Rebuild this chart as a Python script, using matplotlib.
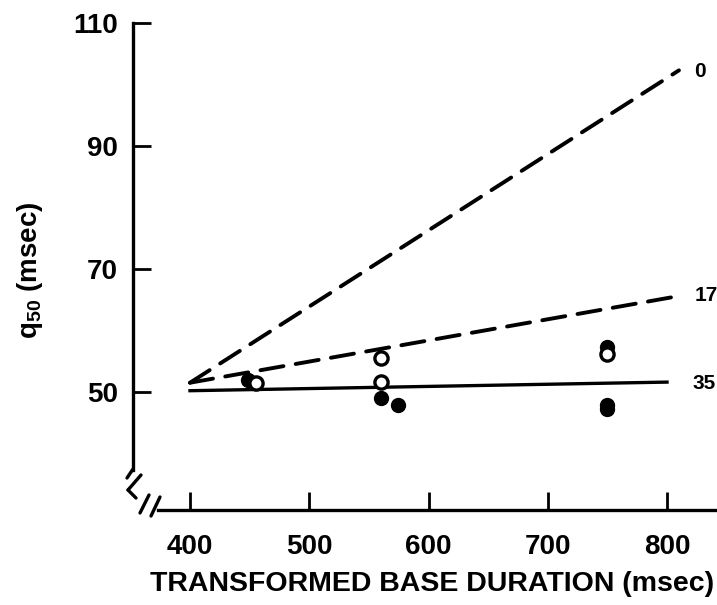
import matplotlib
matplotlib.use("Agg")
import matplotlib.pyplot as plt
from matplotlib.lines import Line2D

# Data
line_x = [400, 810]
line0_y = [51.5, 102.3]
line17_y = [51.5, 65.6]
line35_x = [400, 800]
line35_y = [50.2, 51.6]
line_labels = ["0", "17", "35"]

open_x = [455, 560, 560, 750]
open_y = [51.5, 55.6, 51.6, 56.2]
filled_x = [449, 560, 574, 750, 750, 750]
filled_y = [51.9, 49.0, 47.9, 57.3, 47.9, 47.3]

xticks = [400, 500, 600, 700, 800]
yticks = [50, 70, 90, 110]

W, H = 717, 605
plt.rcParams['font.family'] = ['Liberation Sans', 'DejaVu Sans']
plt.rcParams['mathtext.fontset'] = 'custom'
plt.rcParams['mathtext.bf'] = 'Liberation Sans:bold'
fig = plt.figure(figsize=(W / 100, H / 100), dpi=100)

# pixel mapping: x 400->190, 800->667 ; y 110->23, 50->392
xmin, xmax = 352.2, 841.9
ymin, ymax = 30.8, 112.0
ax = fig.add_axes([133 / W, (H - 510) / H, (717 - 133) / W, (510 - 10.7) / H])
ax.set_xlim(xmin, xmax)
ax.set_ylim(ymin, ymax)

for s in ["top", "right"]:
    ax.spines[s].set_visible(False)
ax.spines["left"].set_bounds(37.3, 110)
ax.spines["bottom"].set_bounds(373.0, xmax)
ax.spines["left"].set_linewidth(2.4)
ax.spines["bottom"].set_linewidth(2.4)

ax.set_xticks(xticks)
ax.set_yticks(yticks)
ax.tick_params(axis="both", direction="in", length=13, width=2.0,
               labelsize=20, pad=11)
ax.tick_params(axis="x", pad=17)
for lab in ax.get_xticklabels() + ax.get_yticklabels():
    lab.set_fontweight("bold")

# lines
ax.plot(line_x, line0_y, color="black", lw=2.8, dashes=(6, 3.2), dash_capstyle="round")
ax.plot(line_x, line17_y, color="black", lw=2.8, dashes=(6, 3.2), dash_capstyle="round")
ax.plot(line35_x, line35_y, color="black", lw=2.4)

ax.text(line_x[1] + 13, line0_y[1] - 0.2, line_labels[0], fontsize=15, fontweight="bold", va="center", ha="left")
ax.text(line_x[1] + 13, line17_y[1] + 0.1, line_labels[1], fontsize=15, fontweight="bold", va="center", ha="left")
ax.text(line35_x[1] + 21, line35_y[1] - 0.3, line_labels[2], fontsize=15, fontweight="bold", va="center", ha="left")

# points
ax.plot(filled_x, filled_y, "o", color="black", ms=10, zorder=4)
ax.plot(open_x, open_y, "o", mfc="white", mec="black", mew=2.4, ms=9.5, zorder=5)

# axis labels
fig.text(432 / W, 1 - 584 / H, "TRANSFORMED BASE DURATION (msec)", fontsize=20.5,
         fontweight="bold", ha="center", va="center")
fig.text(30 / W, 1 - 270 / H, r"q$_{\mathbf{50}}$ (msec)", fontsize=20,
         fontweight="bold", rotation=90, ha="center", va="center")

# axis break marks (decoration, in figure pixel coords)
def px(x, y):
    return (x / W, 1 - y / H)

def seg(p, q, lw=2.4):
    a, b = px(*p), px(*q)
    fig.add_artist(Line2D([a[0], b[0]], [a[1], b[1]], color="black", lw=lw,
                          transform=fig.transFigure, solid_capstyle="round"))

seg((133, 469), (127, 478))
seg((141, 475), (128, 490))
seg((128, 490), (136, 498))
seg((149, 495), (140, 513))
seg((160, 497), (151, 516))

fig.savefig("out.png", dpi=100)
